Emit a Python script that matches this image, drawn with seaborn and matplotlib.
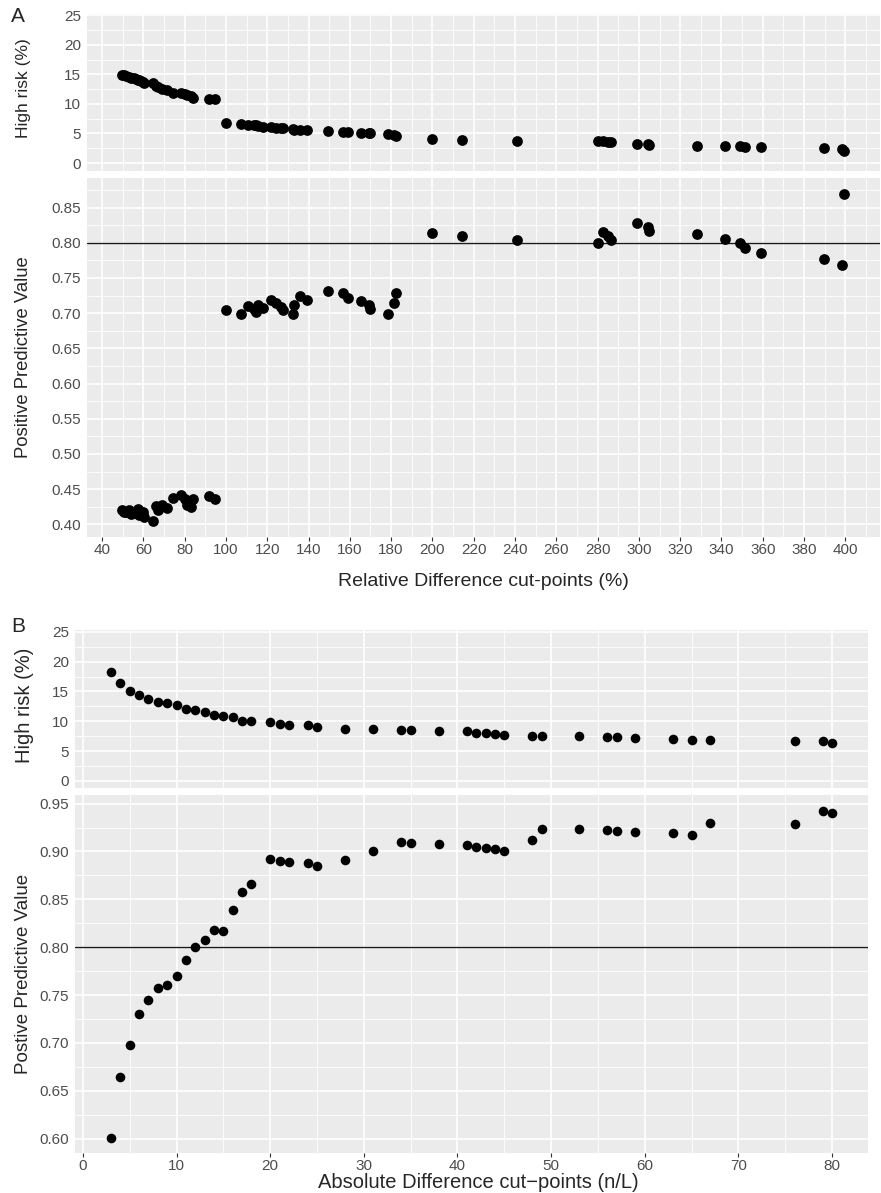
import numpy as np
import pandas as pd
import matplotlib
matplotlib.use('Agg')
import matplotlib.pyplot as plt
from matplotlib.ticker import MultipleLocator, FormatStrFormatter
import seaborn as sns


### (1) Data

## Panel A: relative difference cut-points (%)
rel_x = [49.5, 50.5, 51.6, 53.0, 54.0, 55.5, 56.5, 57.3, 58.0, 59.0, 60.0, 60.5, 64.8, 66.2, 67.3,
         68.9, 71.3, 74.5, 78.3, 80.2, 81.0, 82.9, 83.9, 92.0, 94.7,
         99.9, 107.2, 110.9, 113.6, 114.6, 115.7, 118.1, 121.8, 124.3, 126.7, 127.7, 132.5, 133.0,
         135.9, 139.1, 149.6, 156.9, 159.0, 165.4, 169.4, 169.8, 178.6, 181.4, 182.2,
         199.7, 214.5, 240.8, 280.4, 282.5, 285.2, 286.5, 299.3, 304.6, 304.9, 328.3, 341.7, 349.0,
         351.4, 359.0, 389.7, 398.2, 399.5]
rel_high_risk = [14.9, 14.8, 14.7, 14.55, 14.45, 14.3, 14.2, 14.1, 14.0, 13.85, 13.7, 13.6, 13.6, 13.0, 12.8,
                 12.5, 12.3, 11.9, 11.9, 11.7, 11.5, 11.3, 11.0, 10.9, 10.85,
                 6.7, 6.6, 6.5, 6.4, 6.35, 6.3, 6.15, 6.1, 6.0, 5.9, 5.85, 5.7, 5.65,
                 5.6, 5.5, 5.4, 5.3, 5.2, 5.1, 5.0, 5.0, 4.85, 4.8, 4.6,
                 4.1, 3.9, 3.8, 3.75, 3.65, 3.55, 3.5, 3.2, 3.15, 3.1, 2.9, 2.9, 2.8,
                 2.75, 2.65, 2.5, 2.4, 2.0]
rel_ppv = [0.420, 0.418, 0.4176, 0.421, 0.414, 0.416, 0.418, 0.422, 0.413, 0.415, 0.417, 0.410, 0.405, 0.426, 0.421,
           0.428, 0.4225, 0.437, 0.441, 0.436, 0.427, 0.424, 0.436, 0.440, 0.436,
           0.704, 0.699, 0.7095, 0.706, 0.701, 0.712, 0.707, 0.719, 0.714, 0.709, 0.704, 0.699, 0.711,
           0.724, 0.719, 0.732, 0.728, 0.722, 0.717, 0.712, 0.706, 0.699, 0.714, 0.729,
           0.814, 0.809, 0.804, 0.7995, 0.815, 0.810, 0.804, 0.828, 0.823, 0.817, 0.812, 0.806, 0.7995,
           0.7925, 0.785, 0.777, 0.769, 0.869]

## Panel B: absolute difference cut-points (n/L)
abs_x = [3, 4, 5, 6, 7, 8, 9, 10, 11, 12, 13, 14, 15, 16, 17, 18, 20, 21, 22, 24, 25, 28,
         31, 34, 35, 38, 41, 42, 43, 44, 45, 48, 49, 53, 56, 57, 59, 63, 65, 67, 76, 79, 80]
abs_high_risk = [18.2, 16.4, 15.1, 14.4, 13.7, 13.3, 13.1, 12.7, 12.1, 11.9, 11.5, 11.1, 10.95, 10.7, 10.1,
                 10.05, 9.8, 9.5, 9.4, 9.3, 9.0, 8.7, 8.65, 8.45, 8.45, 8.3, 8.3, 8.0, 8.0, 7.8,
                 7.7, 7.6, 7.6, 7.45, 7.4, 7.3, 7.15, 7.05, 6.9, 6.8, 6.7, 6.6, 6.4]
abs_ppv = [0.601, 0.6645, 0.698, 0.730, 0.7445, 0.757, 0.7605, 0.7695, 0.787, 0.800, 0.808, 0.818, 0.817,
           0.839, 0.858, 0.866, 0.892, 0.890, 0.889, 0.888, 0.8845, 0.8915, 0.900, 0.910, 0.909, 0.908,
           0.907, 0.905, 0.904, 0.903, 0.901, 0.912, 0.924, 0.923, 0.922, 0.921, 0.920, 0.919, 0.917,
           0.930, 0.929, 0.942, 0.940]

df_rel = pd.DataFrame({'cut': rel_x, 'high_risk': rel_high_risk, 'ppv': rel_ppv})
df_abs = pd.DataFrame({'cut': abs_x, 'high_risk': abs_high_risk, 'ppv': abs_ppv})


### (2) Style (ggplot grey look)
sns.set_theme(style='darkgrid')
plt.rcParams['font.family'] = ['Liberation Sans', 'DejaVu Sans']
plt.rcParams['axes.facecolor'] = '#EBEBEB'
plt.rcParams['axes.edgecolor'] = '#EBEBEB'

W, H = 881, 1193
fig = plt.figure(figsize=(W / 100, H / 100), dpi=100)
fig.patch.set_facecolor('white')


def px_rect(left, top, right, bottom):
    return [left / W, 1 - bottom / H, (right - left) / W, (bottom - top) / H]


def style_axis(ax, xmaj, ymaj, yfmt, show_x):
    ax.set_axisbelow(True)
    ax.xaxis.set_major_locator(MultipleLocator(xmaj))
    ax.xaxis.set_minor_locator(MultipleLocator(xmaj / 2))
    ax.yaxis.set_major_locator(MultipleLocator(ymaj))
    ax.yaxis.set_minor_locator(MultipleLocator(ymaj / 2))
    ax.yaxis.set_major_formatter(FormatStrFormatter(yfmt))
    ax.grid(which='major', color='white', linewidth=1.2)
    ax.grid(which='minor', color='white', linewidth=0.6)
    for s in ax.spines.values():
        s.set_visible(False)
    ax.tick_params(which='major', length=2.9, width=0.8, color='#333333',
                   labelsize=11, labelcolor='#4D4D4D', pad=1.5)
    ax.tick_params(which='minor', length=0)
    ax.tick_params(axis='x', bottom=show_x, labelbottom=show_x)
    ax.set_xlabel('')
    ax.set_ylabel('')


# ★ Panel A top: High risk
axA1 = fig.add_axes(px_rect(87, 14, 880, 171))
sns.scatterplot(data=df_rel, x='cut', y='high_risk', ax=axA1, color='black', s=60, linewidth=0)
axA1.set_xlim(32.7, 416.8)
axA1.set_ylim(-1.35, 25.2)
style_axis(axA1, 20, 5, '%d', False)

# ★ Panel A bottom: PPV
axA2 = fig.add_axes(px_rect(87, 178, 880, 537))
axA2.axhline(0.80, color='#1a1a1a', linewidth=1.0, zorder=1)
sns.scatterplot(data=df_rel, x='cut', y='ppv', ax=axA2, color='black', s=60, linewidth=0, zorder=3)
axA2.set_xlim(32.7, 416.8)
axA2.set_ylim(0.382, 0.892)
style_axis(axA2, 20, 0.05, '%.2f', True)

# ★ Panel B top: High risk
axB1 = fig.add_axes(px_rect(75, 630, 868, 788))
sns.scatterplot(data=df_abs, x='cut', y='high_risk', ax=axB1, color='black', s=48, linewidth=0)
axB1.set_xlim(-0.85, 83.85)
axB1.set_ylim(-1.2, 25.3)
style_axis(axB1, 10, 5, '%d', False)

# ★ Panel B bottom: PPV
axB2 = fig.add_axes(px_rect(75, 795, 868, 1153))
axB2.axhline(0.80, color='#1a1a1a', linewidth=1.0, zorder=1)
sns.scatterplot(data=df_abs, x='cut', y='ppv', ax=axB2, color='black', s=48, linewidth=0, zorder=3)
axB2.set_xlim(-0.85, 83.85)
axB2.set_ylim(0.585, 0.959)
style_axis(axB2, 10, 0.05, '%.2f', True)


### (3) Labels
fig.text(18 / W, 1 - 16 / H, 'A', fontsize=15, ha='center', va='center')
fig.text(18 / W, 1 - 627 / H, 'B', fontsize=15, ha='center', va='center')

fig.text(24 / W, 1 - 88 / H, 'High risk (%)', rotation=90, fontsize=12.5, ha='center', va='center')
fig.text(24 / W, 1 - 357.5 / H, 'Positive Predictive Value', rotation=90, fontsize=13.3, ha='center', va='center')
fig.text(483 / W, 1 - 582 / H, 'Relative Difference cut-points (%)', fontsize=14, ha='center', va='center')

fig.text(24 / W, 1 - 705 / H, 'High risk (%)', rotation=90, fontsize=14.5, ha='center', va='center')
fig.text(24 / W, 1 - 974 / H, 'Postive Predictive Value', rotation=90, fontsize=13.5, ha='center', va='center')
fig.text(478 / W, 1 - 1182 / H, 'Absolute Difference cut\u2212points (n/L)', fontsize=14.5, ha='center', va='center')

fig.savefig('out.png', dpi=100, facecolor='white')
